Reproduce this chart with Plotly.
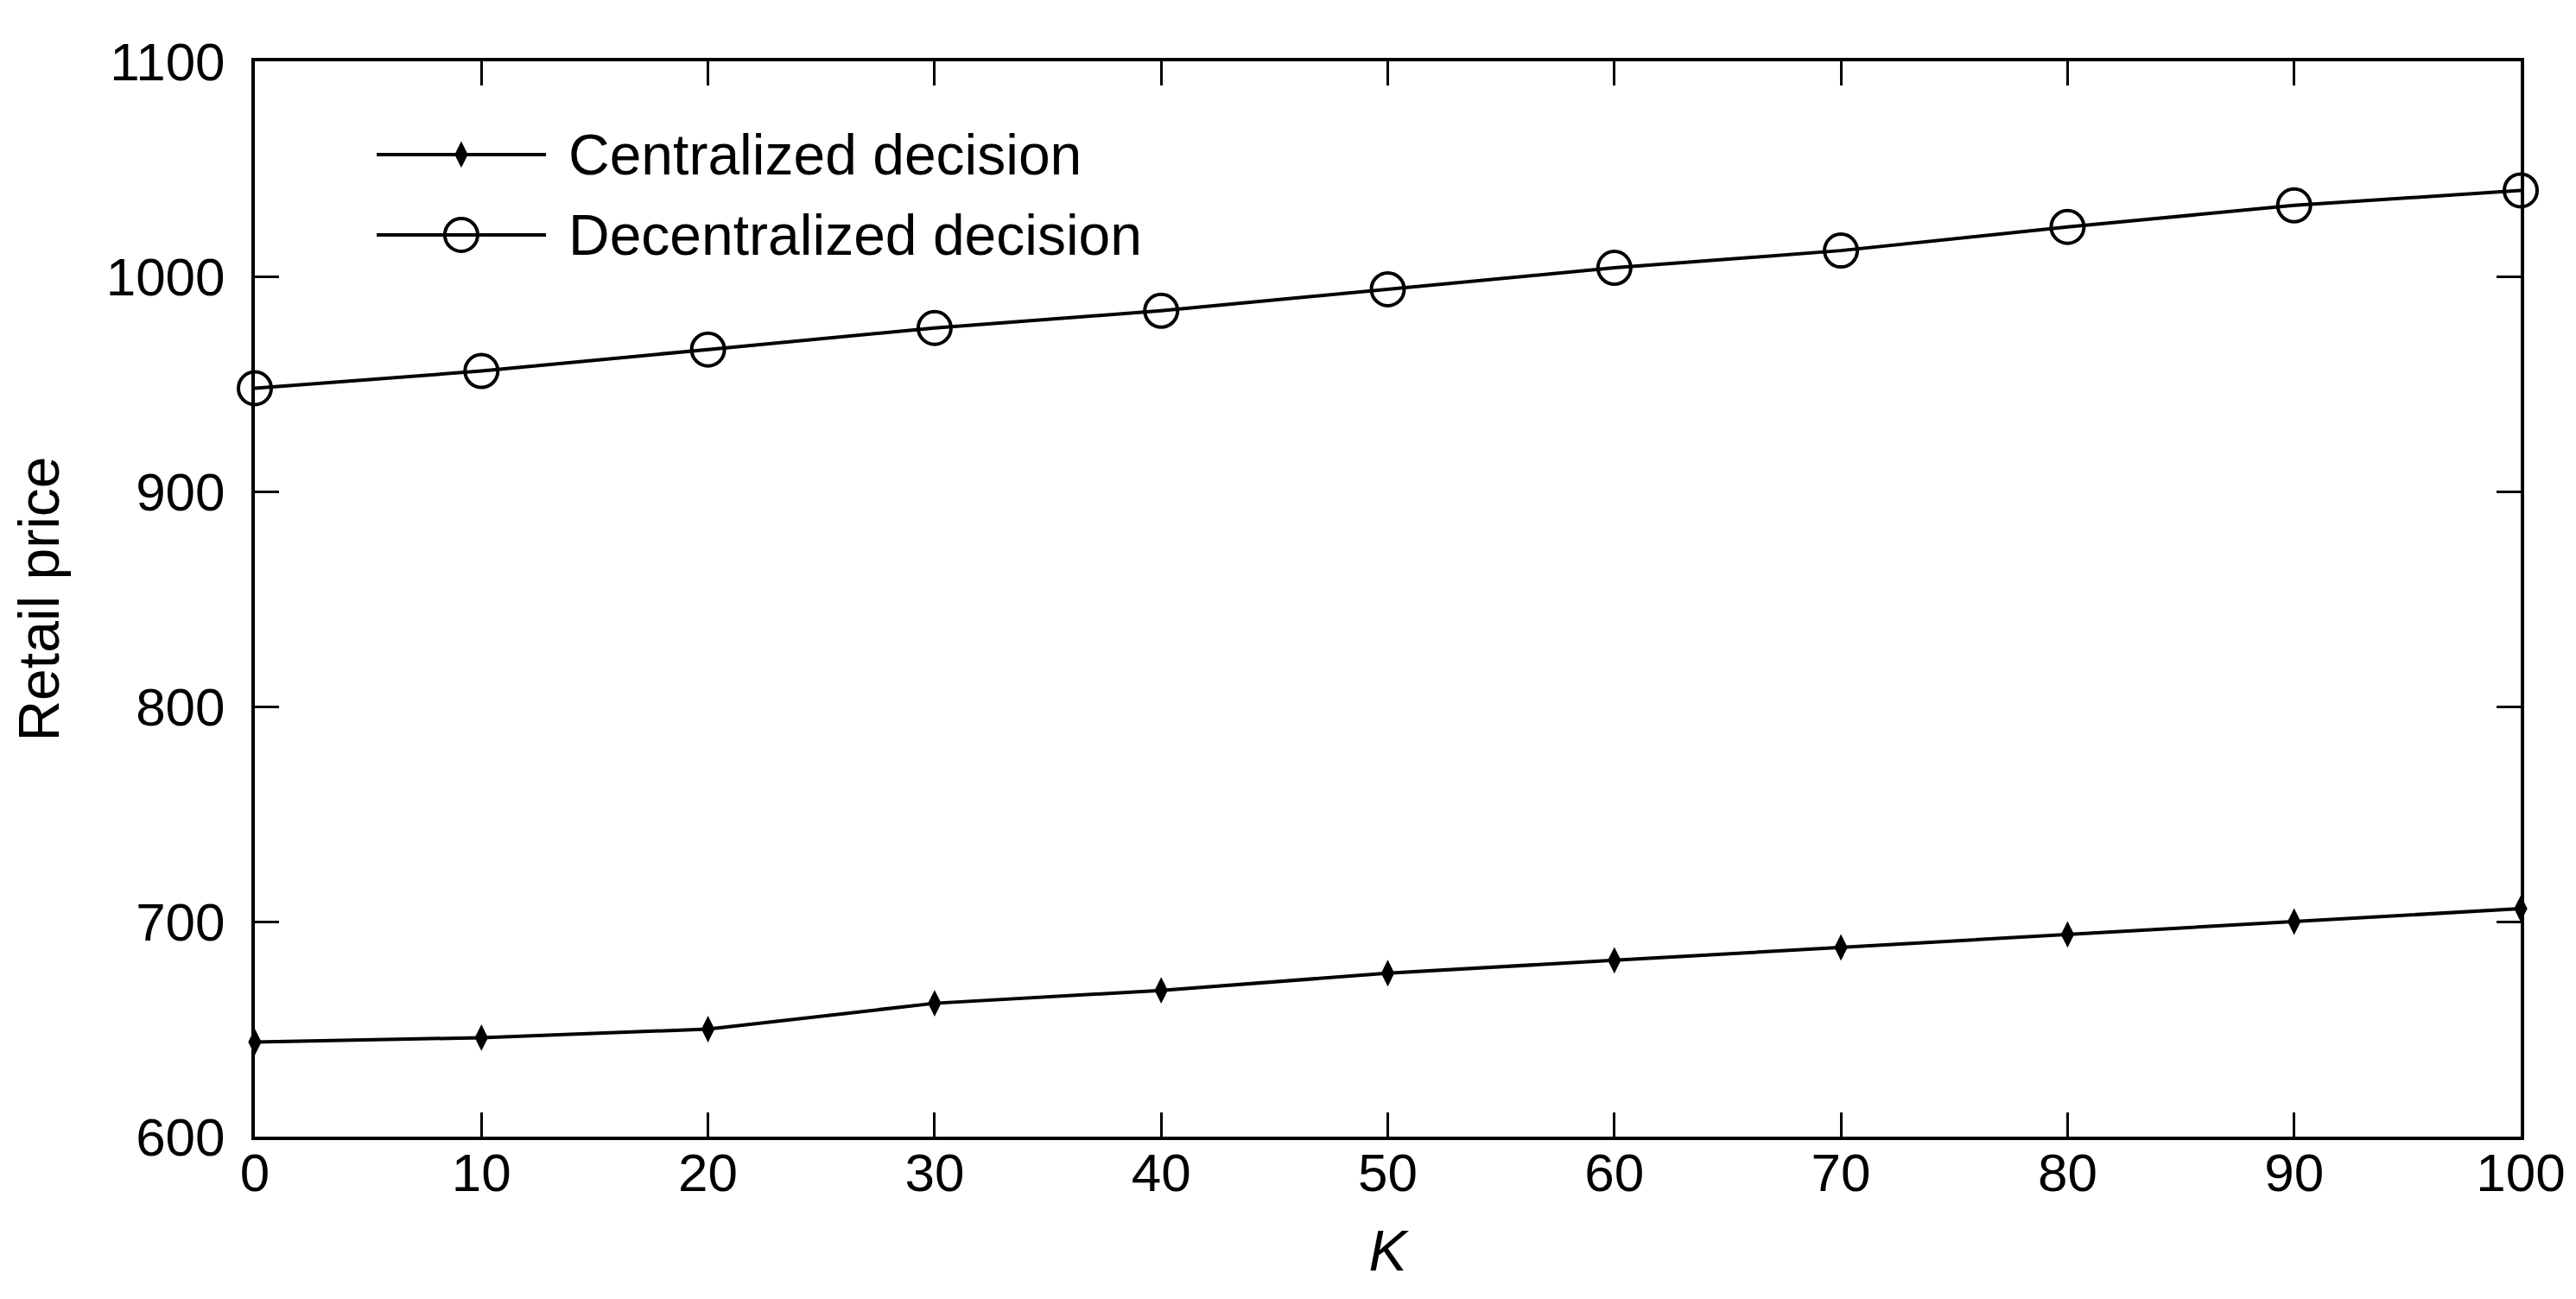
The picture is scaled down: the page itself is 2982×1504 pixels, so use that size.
import plotly.graph_objects as go

# ---- data ----
k_values = [0, 10, 20, 30, 40, 50, 60, 70, 80, 90, 100]
centralized = [644, 646, 650, 662, 668, 676, 682, 688, 694, 700, 706]
decentralized = [948, 956, 966, 976, 984, 994, 1004, 1012, 1023, 1033, 1040]
series_names = ["Centralized decision", "Decentralized decision"]
x_ticks = [0, 10, 20, 30, 40, 50, 60, 70, 80, 90, 100]
y_ticks = [600, 700, 800, 900, 1000, 1100]

FONT = "Liberation Sans, Arial, sans-serif"
FS = 66
TICK_FS = 62

dot_marker = dict(symbol="diamond-tall", size=22, color="black")
ring_marker = dict(symbol="circle-open", size=38, color="black", line=dict(width=4, color="black"))

fig = go.Figure()

fig.add_trace(go.Scatter(
    x=k_values, y=centralized, mode="lines+markers", name=series_names[0],
    line=dict(color="black", width=4), marker=dot_marker,
    showlegend=False, cliponaxis=False,
))
fig.add_trace(go.Scatter(
    x=k_values, y=decentralized, mode="lines+markers", name=series_names[1],
    line=dict(color="black", width=4), marker=ring_marker,
    showlegend=False, cliponaxis=False,
))

# ---- manual legend (overlay axis in unit coordinates) ----
leg_line_x = [0.0538, 0.1285]
leg_mid_x = 0.0911
leg_rows = [0.9133, 0.8386]
for yy, mk in zip(leg_rows, [dot_marker, ring_marker]):
    fig.add_trace(go.Scatter(
        x=leg_line_x, y=[yy, yy], xaxis="x2", yaxis="y2", mode="lines",
        line=dict(color="black", width=4), showlegend=False, hoverinfo="skip",
    ))
    fig.add_trace(go.Scatter(
        x=[leg_mid_x], y=[yy], xaxis="x2", yaxis="y2", mode="markers",
        marker=mk, showlegend=False, hoverinfo="skip",
    ))
for name, yy in zip(series_names, leg_rows):
    fig.add_annotation(x=0.1376, y=yy, xref="x2", yref="y2", text=name, showarrow=False,
                       xanchor="left", yanchor="middle", font=dict(family=FONT, size=FS, color="black"))

axis_common = dict(
    showline=True, linecolor="black", linewidth=4, mirror="allticks",
    ticks="inside", ticklen=28, tickwidth=3, tickcolor="black",
    showgrid=False, zeroline=False,
    tickfont=dict(family=FONT, size=TICK_FS, color="black"),
)

fig.update_layout(
    width=2982, height=1504,
    margin=dict(l=287, r=72, t=63, b=196),
    paper_bgcolor="white", plot_bgcolor="white",
    xaxis=dict(range=[0, 100], tickvals=x_ticks, ticklabelstandoff=-15,
               title=dict(text="<i>K</i>", font=dict(family=FONT, size=FS, color="black"), standoff=34),
               **axis_common),
    yaxis=dict(range=[600, 1100], tickvals=y_ticks, ticklabelstandoff=18,
               title=dict(text="Retail price", font=dict(family=FONT, size=FS, color="black"), standoff=48),
               **axis_common),
    xaxis2=dict(range=[0, 1], overlaying="x", visible=False, fixedrange=True),
    yaxis2=dict(range=[0, 1], overlaying="y", visible=False, fixedrange=True),
)

fig.write_html("out.html")
